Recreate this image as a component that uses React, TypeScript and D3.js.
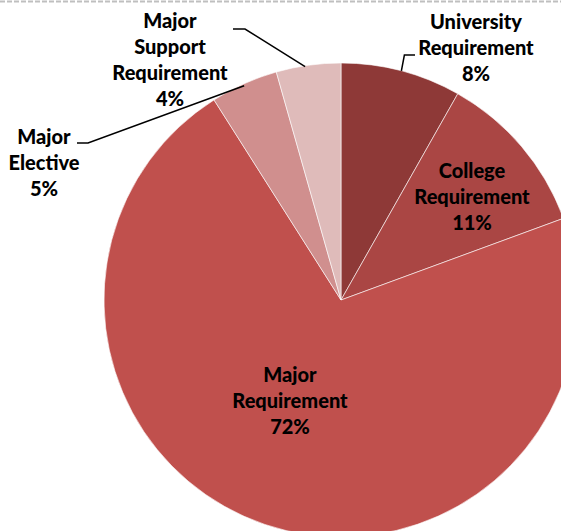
import React from "react";
import * as d3 from "d3";

const categories = [
  "University Requirement",
  "College Requirement",
  "Major Requirement",
  "Major Elective",
  "Major Support Requirement",
];
const values = [8.2, 11.2, 71.6, 4.6, 4.4];
const colors = ["#8E3937", "#AA4644", "#C0504D", "#D08F8E", "#DFBBBA"];

const nameLines = [
  ["University", "Requirement"],
  ["College", "Requirement"],
  ["Major", "Requirement"],
  ["Major", "Elective"],
  ["Major", "Support", "Requirement"],
];
const labelPos: [number, number][] = [
  [476, 29],
  [472, 178],
  [290, 382],
  [44, 144],
  [170, 28],
];

const W = 561;
const H = 531;
const cx = 341;
const cy = 300;
const R = 237;

export default function App() {
  const pie = d3.pie<number>().sort(null).value((d) => d)(values);
  const arc = d3.arc<d3.PieArcDatum<number>>().innerRadius(0).outerRadius(R);
  const lh = 26;
  const total = d3.sum(values);

  const edge = (i: number, frac: number) => {
    const p = pie[i];
    const a = p.startAngle + (p.endAngle - p.startAngle) * frac;
    return [cx + R * Math.sin(a), cy - R * Math.cos(a)];
  };
  const uni = edge(0, 0.5);
  const sup = edge(4, 0.45);
  const ele = edge(3, 0.5);

  return (
    <svg
      width={W}
      height={H}
      style={{ position: "fixed", left: 0, top: 0, background: "#fff" }}
      fontFamily="Lato, 'Open Sans', sans-serif"
    >
      <line x1={0} x2={W} y1={1.5} y2={1.5} stroke="#BFBFBF" strokeWidth={2} strokeDasharray="5 2" />
      <g transform={`translate(${cx},${cy})`}>
        {pie.map((p, i) => (
          <path key={i} d={arc(p) || ""} fill={colors[i]} stroke="#fff" strokeWidth={0.6} />
        ))}
      </g>
      <polyline
        points={`${uni[0]},${uni[1]} ${uni[0] + 3},${55} ${415},${55}`}
        fill="none"
        stroke="#000"
        strokeWidth={1.5}
      />
      <polyline
        points={`${233},${29} ${245},${29} ${sup[0]},${sup[1] + 1}`}
        fill="none"
        stroke="#000"
        strokeWidth={1.5}
      />
      <polyline
        points={`${77},${143} ${88},${143} ${ele[0]},${ele[1] + 2}`}
        fill="none"
        stroke="#000"
        strokeWidth={1.5}
      />
      {nameLines.map((lines, i) => {
        const all = [...lines, `${Math.round((values[i] / total) * 100)}%`];
        return (
          <text
            key={categories[i]}
            x={labelPos[i][0]}
            y={labelPos[i][1]}
            textAnchor="middle"
            fontWeight={900}
            fontSize={20}
            fill="#000"
          >
            {all.map((t, j) => (
              <tspan key={j} x={labelPos[i][0]} dy={j === 0 ? 0 : lh}>
                {t}
              </tspan>
            ))}
          </text>
        );
      })}
    </svg>
  );
}
